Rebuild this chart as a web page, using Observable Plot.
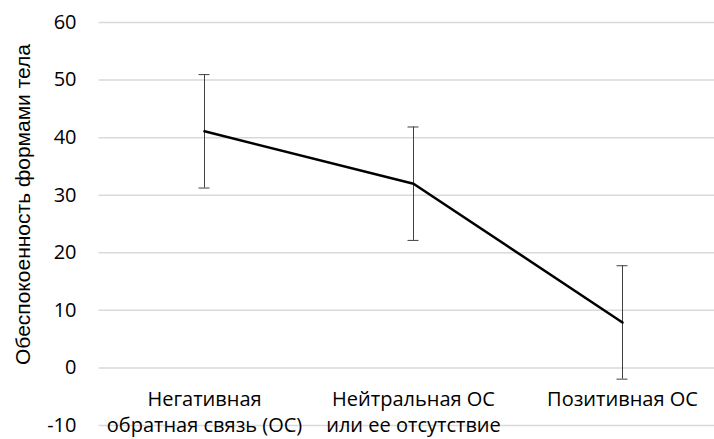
<!DOCTYPE html>
<html>
<head>
<meta charset="utf-8">
<script src="https://cdn.jsdelivr.net/npm/d3@7"></script>
<script src="https://cdn.jsdelivr.net/npm/@observablehq/plot@0.6"></script>
<style>
  html, body { margin: 0; padding: 0; background: #fff; }
  #chart svg { display: block; overflow: visible; }
</style>
</head>
<body>
<div id="chart"></div>
<script>
// Feedback type categories (multi-line labels split with \n)
const categories = [
  "Негативная\nобратная связь (ОС)",
  "Нейтральная ОС\nили ее отсутствие",
  "Позитивная ОС"
];
// Mean body-shape concern per group
const means = [41.1, 32.0, 7.9];
// Error bar half-widths
const errors = [9.85, 9.85, 9.85];
const yTicks = [-10, 0, 10, 20, 30, 40, 50, 60];
const yTitle = "Обеспокоенность формами тела";

const data = categories.map((c, i) => ({
  cat: c, mean: means[i], lo: means[i] - errors[i], hi: means[i] + errors[i]
}));

const font = "'Open Sans', sans-serif";
const fontSize = 20;

const chart = Plot.plot({
  width: 714,
  height: 439,
  marginTop: 22,
  marginBottom: 14,
  marginLeft: 98.5,
  marginRight: 0,
  style: { fontFamily: font, fontSize: fontSize + "px", color: "#000", background: "#fff" },
  x: { type: "point", domain: categories, range: [98.5, 727], padding: 0.5, axis: null },
  y: { domain: [-10, 60], ticks: yTicks, label: null },
  marks: [
    Plot.ruleY(yTicks, { stroke: "#d9d9d9", strokeWidth: 1.5 }),
    Plot.axisY({ ticks: yTicks, tickSize: 0, tickPadding: 22.5, label: null, fontSize: fontSize,
                 tickFormat: d => String(d) }),
    // error bars
    Plot.ruleX(data, { x: "cat", y1: "lo", y2: "hi", stroke: "#404040", strokeWidth: 1 }),
    Plot.ruleY(data, { x1: "cat", x2: "cat", y: "lo", insetLeft: -5.5, insetRight: -5.5, stroke: "#404040", strokeWidth: 1 }),
    Plot.ruleY(data, { x1: "cat", x2: "cat", y: "hi", insetLeft: -5.5, insetRight: -5.5, stroke: "#404040", strokeWidth: 1 }),
    // mean line
    Plot.line(data, { x: "cat", y: "mean", stroke: "#000", strokeWidth: 2.5 }),
    // category labels below the zero line
    Plot.text(data, { x: "cat", y: () => 0, text: "cat", lineAnchor: "top", dy: 19,
                      lineHeight: 1.33, fontSize: fontSize, fill: "#000" }),
    // axis title
    Plot.text([yTitle], { frameAnchor: "left", textAnchor: "middle", rotate: -90, dx: -76, dy: -19.5,
                          fontFamily: "'Liberation Sans', Arial, sans-serif", fontSize: 21, fill: "#000" })
  ]
});

document.getElementById("chart").appendChild(chart);
</script>
</body>
</html>
